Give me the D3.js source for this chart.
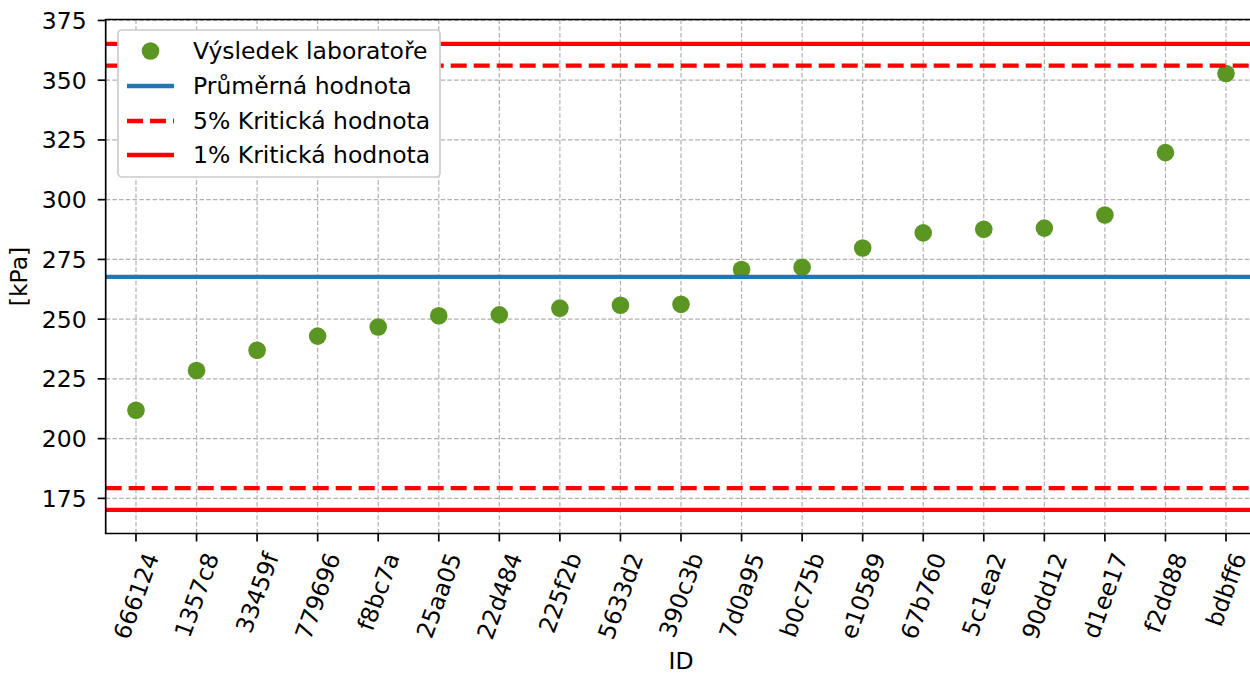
<!DOCTYPE html>
<html><head><meta charset="utf-8">
<script src="https://cdn.jsdelivr.net/npm/d3@7"></script>
<style>body{margin:0;background:#fff}svg{display:block;font-family:"DejaVu Sans",sans-serif}</style>
</head><body><svg id="c" width="1250" height="675"></svg>
<script>
const categories = ["666124","1357c8","33459f","779696","f8bc7a","25aa05","22d484","225f2b","5633d2","390c3b","7d0a95","b0c75b","e10589","67b760","5c1ea2","90dd12","d1ee17","f2dd88","bdbff6"];
const values = [211.9,228.5,237.0,242.9,246.7,251.4,251.8,254.6,255.8,256.2,270.8,271.7,279.8,286.1,287.6,288.1,293.6,319.7,352.8];
const meanValue = 267.7;
const crit5 = [179.3, 356.1];
const crit1 = [170.2, 365.2];
const yTicks = [175,200,225,250,275,300,325,350,375];
const legendLabels = ["Výsledek laboratoře","Průměrná hodnota","5% Kritická hodnota","1% Kritická hodnota"];

const svg = d3.select("#c");
const L = 105.7, R = 1256.3, T = 19.5, B = 533.5;
const x = d3.scalePoint().domain(categories).range([L, R]).padding(0.5);
const y = d3.scaleLinear().domain([160.3, 375.4]).range([B, T]);
const FS = 23.5;
const green = "#5b9522", blue = "#1f77b4", red = "#ff0000";

// grid
const g = svg.append("g");
g.selectAll(".vg").data(categories).join("line")
  .attr("x1", d => x(d)).attr("x2", d => x(d)).attr("y1", T).attr("y2", B)
  .attr("stroke", "#b0b0b0").attr("stroke-width", 1.2).attr("stroke-dasharray", "4.5,2.2");
g.selectAll(".hg").data(yTicks).join("line")
  .attr("x1", L).attr("x2", R).attr("y1", d => y(d)).attr("y2", d => y(d))
  .attr("stroke", "#b0b0b0").attr("stroke-width", 1.2).attr("stroke-dasharray", "4.5,2.2");

// points
svg.append("g").selectAll("circle").data(values).join("circle")
  .attr("cx", (d, i) => x(categories[i])).attr("cy", d => y(d)).attr("r", 8.8).attr("fill", green);

// lines
function hline(v, color, dash) {
  svg.append("line").attr("x1", L).attr("x2", R).attr("y1", y(v)).attr("y2", y(v))
    .attr("stroke", color).attr("stroke-width", 4.3).attr("stroke-dasharray", dash || null);
}
hline(meanValue, blue);
crit5.forEach(v => hline(v, red, "16,7"));
crit1.forEach(v => hline(v, red));

// spines
svg.append("line").attr("x1", L).attr("x2", L).attr("y1", T).attr("y2", B).attr("stroke", "#000").attr("stroke-width", 1.7);
svg.append("line").attr("x1", L - 0.85).attr("x2", R).attr("y1", B).attr("y2", B).attr("stroke", "#000").attr("stroke-width", 1.7);
svg.append("line").attr("x1", L - 0.85).attr("x2", R).attr("y1", T).attr("y2", T).attr("stroke", "#000").attr("stroke-width", 1.7);

// y axis ticks
const ya = svg.append("g");
yTicks.forEach(t => {
  ya.append("line").attr("x1", L - 8).attr("x2", L).attr("y1", y(t)).attr("y2", y(t)).attr("stroke", "#000").attr("stroke-width", 1.7);
  ya.append("text").attr("x", L - 19).attr("y", y(t)).attr("dy", "0.36em").attr("text-anchor", "end")
    .attr("font-size", FS).attr("fill", "#000").text(t);
});
// x axis ticks
const xa = svg.append("g");
categories.forEach(c => {
  const cx = x(c);
  xa.append("line").attr("x1", cx).attr("x2", cx).attr("y1", B).attr("y2", B + 8).attr("stroke", "#000").attr("stroke-width", 1.7);
  const grp = xa.append("g");
  const t = grp.append("text").attr("text-anchor", "middle").attr("dy", "0.36em")
    .attr("font-size", FS).attr("fill", "#000").text(c);
  const len = t.node().getComputedTextLength();
  const a = 70 * Math.PI / 180;
  const h = len * Math.sin(a) + FS * 1.17 * Math.cos(a);
  grp.attr("transform", `translate(${cx},${549 + h / 2}) rotate(-70)`);
});

// axis labels
svg.append("text").attr("x", (L + R) / 2).attr("y", 661).attr("dy", "0.36em").attr("text-anchor", "middle")
  .attr("font-size", FS).text("ID");
svg.append("text").attr("transform", `translate(19,${(T + B) / 2}) rotate(-90)`).attr("dy", "0.36em")
  .attr("text-anchor", "middle").attr("font-size", FS).text("[kPa]");

// legend
const lg = svg.append("g");
lg.append("rect").attr("x", 118).attr("y", 30).attr("width", 322).attr("height", 147).attr("rx", 4)
  .attr("fill", "#fff").attr("stroke", "#cccccc").attr("stroke-width", 1.7);
const rows = [51, 86, 121, 155];
legendLabels.forEach((lab, i) => {
  const yy = rows[i];
  if (i === 0) {
    lg.append("circle").attr("cx", 150.5).attr("cy", yy).attr("r", 8.8).attr("fill", green);
  } else {
    const l = lg.append("line").attr("x1", 127).attr("x2", 174).attr("y1", yy).attr("y2", yy)
      .attr("stroke", i === 1 ? blue : red).attr("stroke-width", 4.3);
    if (i === 2) l.attr("stroke-dasharray", "16,7");
  }
  lg.append("text").attr("x", 193).attr("y", yy).attr("dy", "0.36em").attr("font-size", FS).text(lab);
});
</script></body></html>
